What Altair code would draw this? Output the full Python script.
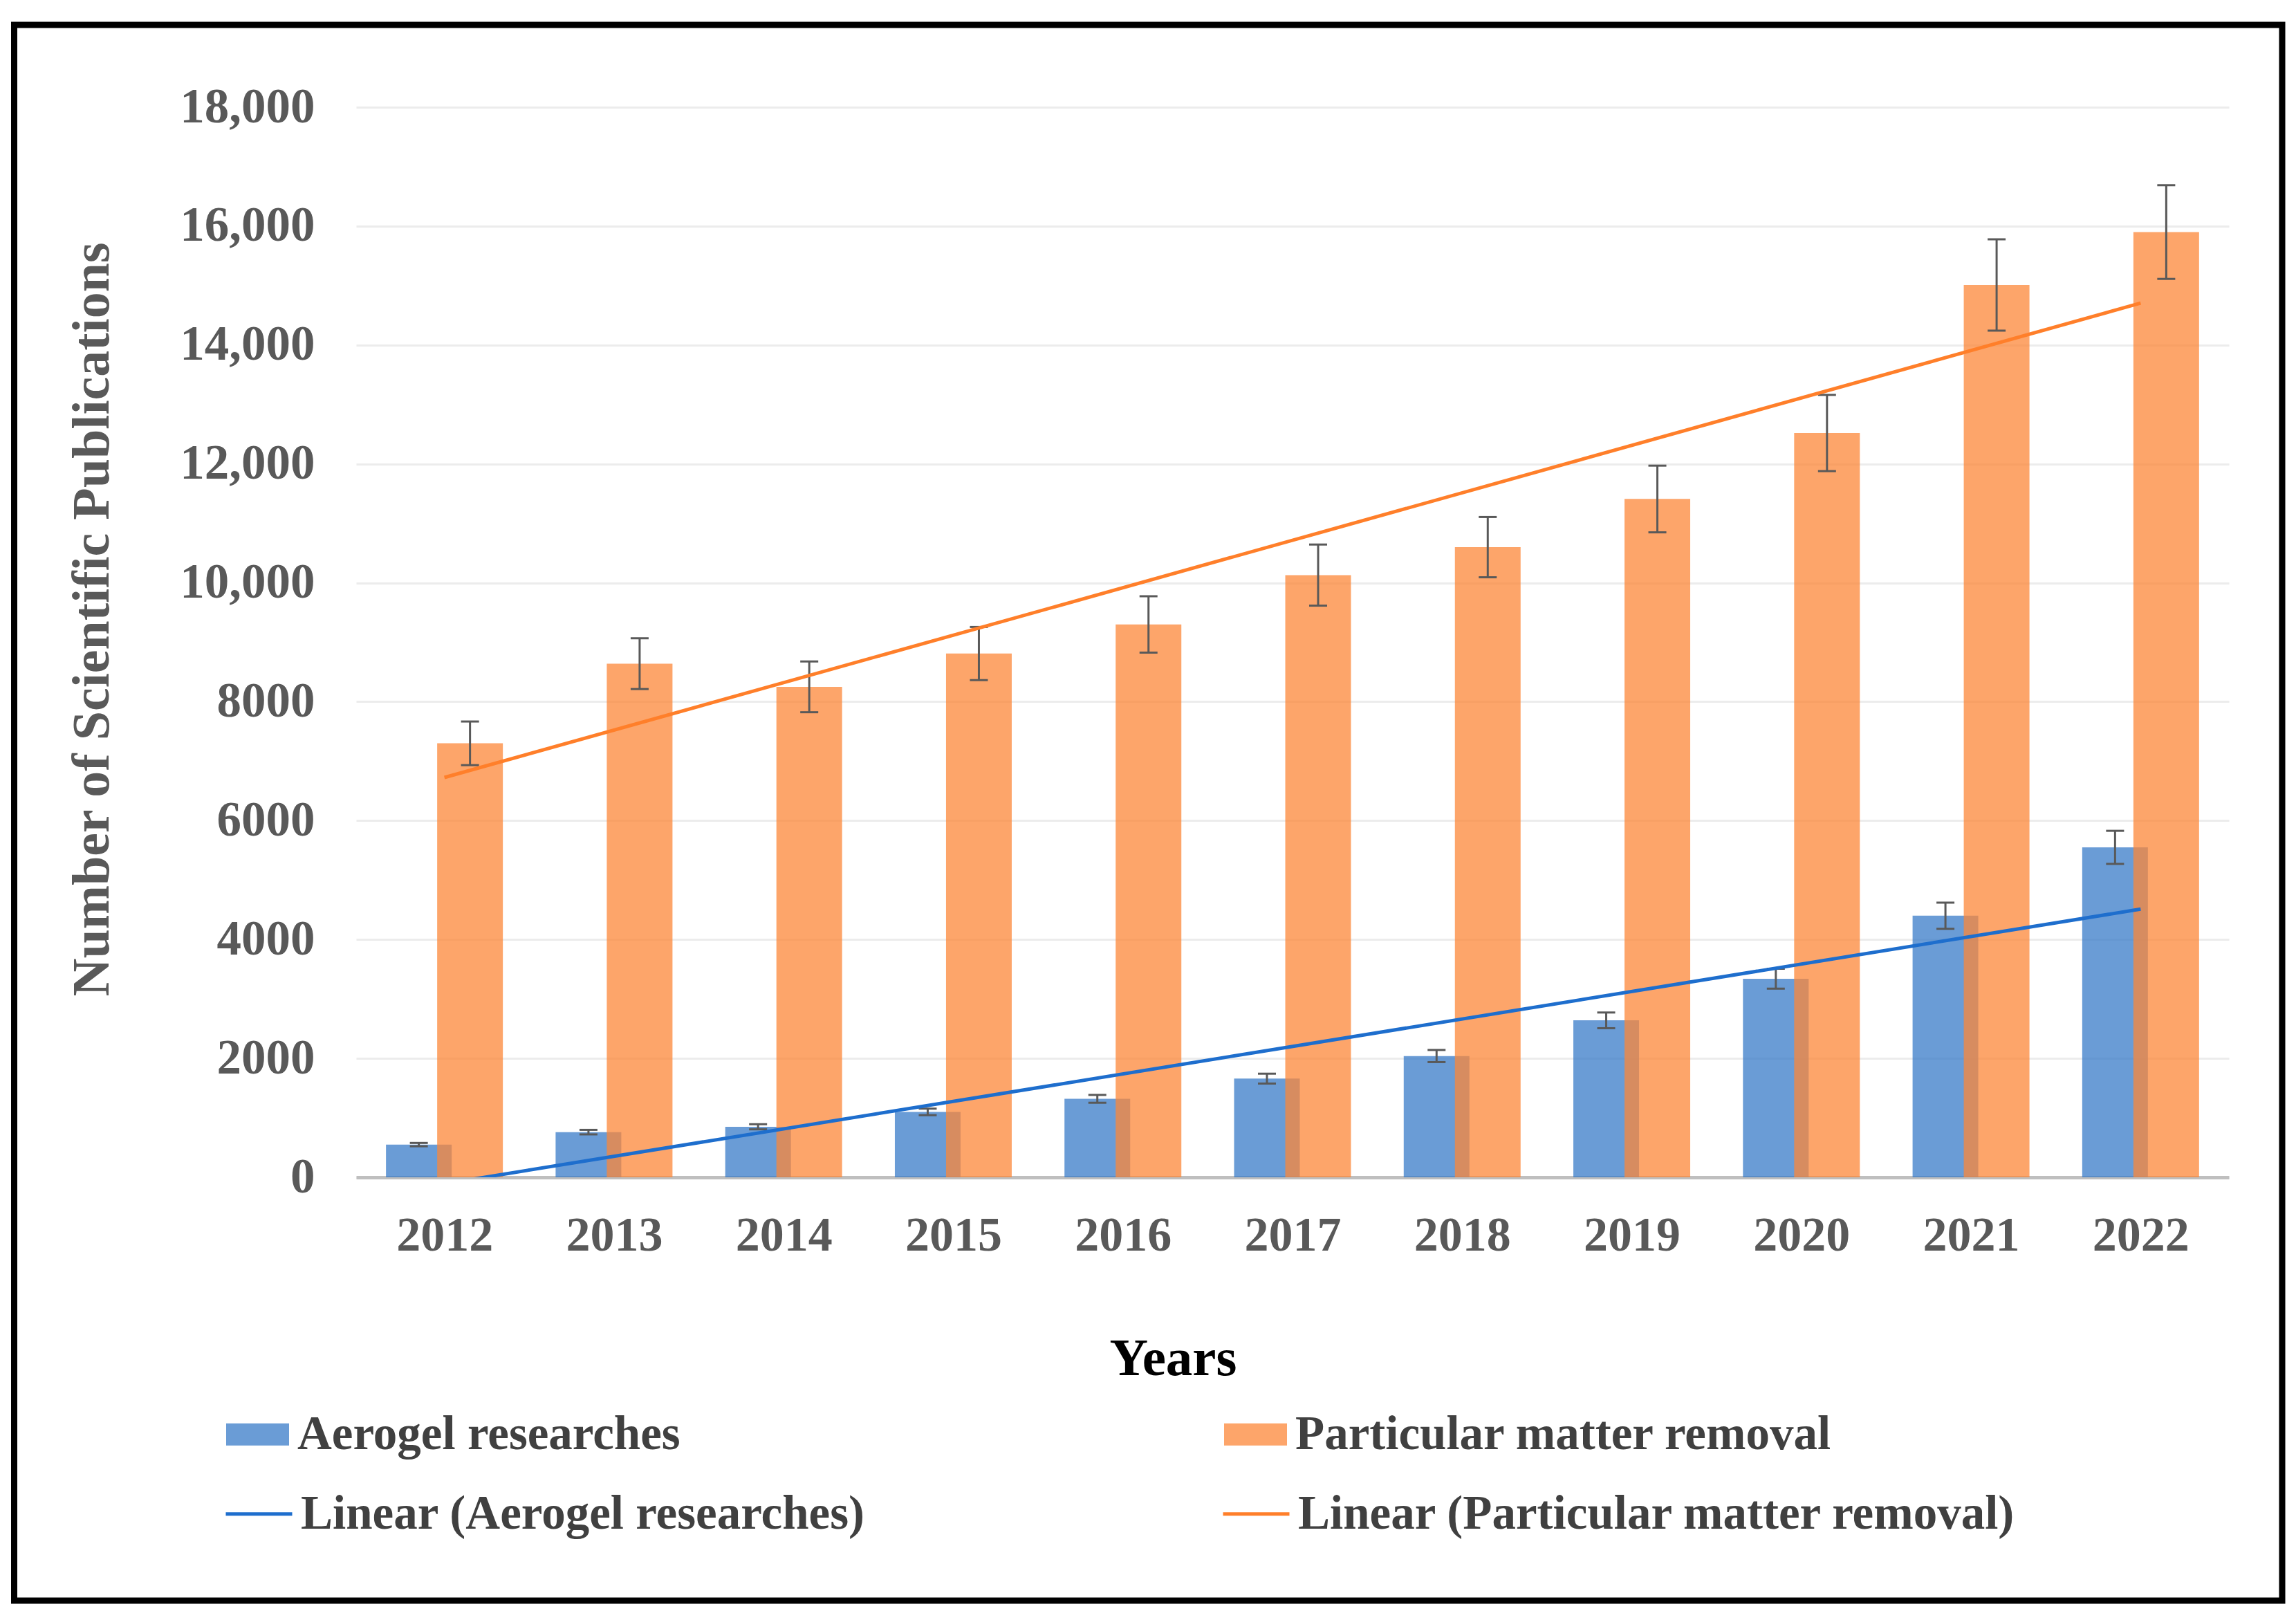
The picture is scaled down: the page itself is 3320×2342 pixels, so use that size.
import altair as alt
import pandas as pd

years = [2012, 2013, 2014, 2015, 2016, 2017, 2018, 2019, 2020, 2021, 2022]
aerogel = [550, 760, 850, 1100, 1320, 1660, 2040, 2640, 3340, 4400, 5550]
aerogel_err = [28, 38, 43, 55, 66, 83, 102, 132, 167, 220, 278]
pm = [7300, 8640, 8250, 8810, 9300, 10130, 10600, 11410, 12520, 15010, 15900]
pm_err = [367, 427, 427, 447, 474, 514, 507, 561, 641, 768, 788]

series = ["Aerogel researches", "Particular matter removal"]
trend_labels = ["Linear (Aerogel researches)", "Linear (Particular matter removal)"]
bar_colors = ["#387BC8", "#FC8738"]
line_colors = ["#1E6ECD", "#FF7F2A"]
y_ticks = [0, 2000, 4000, 6000, 8000, 10000, 12000, 14000, 16000, 18000]

rows = []
for i, yr in enumerate(years):
    rows.append({"Year": yr, "Series": series[0], "Value": aerogel[i], "Err": aerogel_err[i]})
    rows.append({"Year": yr, "Series": series[1], "Value": pm[i], "Err": pm_err[i]})
df = pd.DataFrame(rows)

FONT = "Liberation Serif"

x_scale = alt.Scale(domain=[2011.5, 2022.5], nice=False, zero=False)
y_scale = alt.Scale(domain=[0, 18000], nice=False)

x_axis = alt.Axis(
    values=years, format="d", grid=False, ticks=False,
    domain=True, domainColor="#BFBFBF", domainWidth=5,
    labelFont=FONT, labelFontWeight="bold", labelFontSize=70, labelColor="#595959",
    labelPadding=50, labelAngle=0, labelLimit=1000,
    title="Years", titleFont=FONT, titleFontWeight="bold", titleFontSize=77, titleColor="#000000",
    titleX=1181, titleY=285, titleAlign="center", titleBaseline="alphabetic",
)
y_axis = alt.Axis(
    values=y_ticks, grid=True, gridColor="#ECECEC", gridWidth=3,
    domain=False, ticks=False,
    labelExpr="datum.value >= 10000 ? format(datum.value, ',') : format(datum.value, 'd')",
    labelFont=FONT, labelFontWeight="bold", labelFontSize=71, labelColor="#595959",
    labelPadding=60, labelLimit=1000,
    title="Number of Scientific Publications", titleFont=FONT, titleFontWeight="bold",
    titleFontSize=76, titleColor="#595959", titleLimit=3000,
    titleX=-382, titleY=740, titleAngle=270, titleAlign="center", titleBaseline="middle",
)

X = alt.X("Year:Q", scale=x_scale, axis=x_axis)
Y = alt.Y("Value:Q", scale=y_scale, axis=y_axis)
Ylo = alt.Y("lo:Q", scale=y_scale, axis=y_axis)

fill_legend = alt.Legend(
    title=None, orient="none", legendX=-188, legendY=1873, columns=2, columnPadding=786,
    symbolType="M-1,-0.352L1,-0.352L1,0.352L-1,0.352Z", symbolSize=8281,
    symbolStrokeWidth=0, symbolOpacity=0.75, labelOffset=12, padding=0,
    labelFont=FONT, labelFontWeight="bold", labelFontSize=69, labelColor="#404040",
    labelLimit=2000,
)
stroke_legend = alt.Legend(
    title=None, orient="none", legendX=-191, legendY=1983, columns=2, columnPadding=506,
    symbolType="stroke", symbolSize=9216, symbolStrokeWidth=5, labelOffset=10, padding=0,
    labelFont=FONT, labelFontWeight="bold", labelFontSize=69, labelColor="#404040",
    labelLimit=2000,
)

color = alt.Color("Series:N", scale=alt.Scale(domain=series, range=bar_colors), legend=fill_legend)

base = alt.Chart(df)

layers = []
offsets = [-37, 37]
for k, s in enumerate(series):
    sub = base.transform_filter(alt.datum.Series == s)
    layers.append(sub.mark_bar(size=95, xOffset=offsets[k], opacity=0.75).encode(x=X, y=Y, color=color))
for k, s in enumerate(series):
    sub = base.transform_filter(alt.datum.Series == s).transform_calculate(
        lo="datum.Value - datum.Err", hi="datum.Value + datum.Err")
    layers.append(sub.mark_rule(xOffset=offsets[k], color="#595959", strokeWidth=3).encode(
        x=X, y=Ylo, y2="hi:Q"))
    layers.append(sub.mark_tick(xOffset=offsets[k], orient="horizontal", size=26, thickness=3,
                                color="#595959", opacity=1).encode(x=X, y=Ylo))
    layers.append(sub.mark_tick(xOffset=offsets[k], orient="horizontal", size=26, thickness=3,
                                color="#595959", opacity=1).encode(
        x=X, y=alt.Y("hi:Q", scale=y_scale, axis=y_axis)))

trend = base.transform_regression(
    "Year", "Value", groupby=["Series"], method="linear", extent=[2012, 2022]
).transform_calculate(Trend="'Linear (' + datum.Series + ')'").mark_line(
    strokeWidth=5, clip=True
).encode(
    x=X, y=Y,
    stroke=alt.Stroke("Trend:N", scale=alt.Scale(domain=trend_labels, range=line_colors), legend=stroke_legend),
)
layers.append(trend)

frame = alt.Chart(pd.DataFrame({"f": [0]})).mark_rect(
    filled=False, color="#000000", strokeWidth=9, clip=False
).encode(x=alt.value(-494.5), x2=alt.value(2785), y=alt.value(-119), y2=alt.value(2159))
layers.append(frame)

chart = alt.layer(*layers).properties(
    width=2708, height=1547,
    padding={"left": 507, "top": 147, "right": 82, "bottom": 625},
    autosize=alt.AutoSizeParams(type="none"),
    background="white",
).configure_view(strokeWidth=0)

chart.save("out.html", embed_options={"renderer": "svg", "actions": False})
